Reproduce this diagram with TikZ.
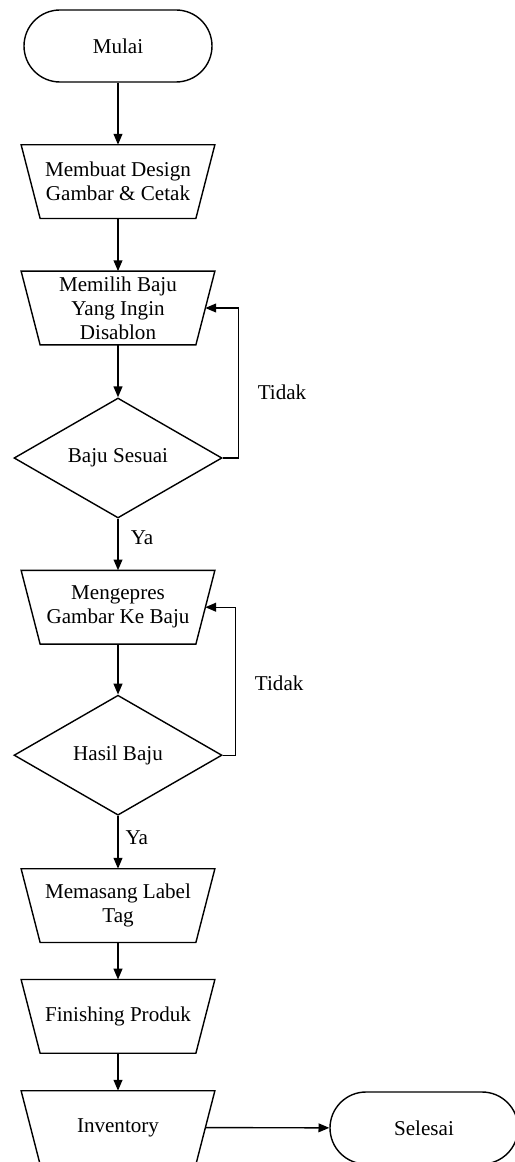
\documentclass[tikz,border=0pt]{standalone}
\usepackage{fontspec}
\setmainfont{Liberation Serif}
\usepackage{tikz}
\usetikzlibrary{positioning,arrows.meta,shapes.geometric}

\tikzset{
  terminal/.style={draw, line width=1pt, rounded corners=0.9cm, minimum width=4.7cm, minimum height=1.8cm, inner sep=0pt},
  proses/.style={minimum width=4.83cm, minimum height=1.83cm, inner sep=0pt, align=center,
    append after command={\pgfextra{\draw[line width=1pt] (\tikzlastnode.north west) -- (\tikzlastnode.north east) -- ([xshift=-0.475cm]\tikzlastnode.south east) -- ([xshift=0.475cm]\tikzlastnode.south west) -- cycle;}}},
  cek/.style={draw, line width=1pt, diamond, aspect=1.72, minimum width=5.2cm, minimum height=3cm, inner sep=0pt},
  flow/.style={line width=1pt, -{Triangle[length=0.27cm,width=0.22cm]}},
  every node/.style={font=\fontsize{15}{17}\selectfont}
}

\begin{document}
\begin{tikzpicture}
                \useasboundingbox (0,0) rectangle (12.85,-29.05);

                \node[terminal] (mulai)   at (2.95,-1.15)  {Mulai};
                \node[proses]   (design)  at (2.95,-4.54)  {Membuat Design\\Gambar \& Cetak};
                \node[proses]   (pilih)   at (2.95,-7.7)   {Memilih Baju\\Yang Ingin\\Disablon};
                \node[cek]      (sesuai)  at (2.95,-11.45) {Baju Sesuai};
                \node[proses]   (press)   at (2.95,-15.18) {Mengepres\\Gambar Ke Baju};
                \node[cek]      (hasil)   at (2.95,-18.88) {Hasil Baju};
                \node[proses]   (label)   at (2.95,-22.64) {Memasang Label\\Tag};
                \node[proses]   (finish)  at (2.95,-25.41) {Finishing Produk};
                \node[proses]   (invent)  at (2.95,-28.19) {Inventory};
                \node[terminal] (selesai) at (10.6,-28.2)  {Selesai};

                \draw[flow] (mulai)  -- (design);
                \draw[flow] (design) -- (pilih);
                \draw[flow] (pilih)  -- (sesuai);
                \draw[flow] (sesuai) -- (press);
                \draw[flow] (press)  -- (hasil);
                \draw[flow] (hasil)  -- (label);
                \draw[flow] (label)  -- (finish);
                \draw[flow] (finish) -- (invent);
                \draw[flow] ([xshift=-0.24cm]invent.east) -- (selesai);

                % loop tidak
                \draw[flow] (sesuai.east) -- ++(0.4,0)  |- ([xshift=-0.24cm]pilih.east);
                \draw[flow] (hasil.east)  -- ++(0.32,0) |- ([xshift=-0.24cm]press.east);

                \node (tidak1) at (7.05,-9.8)   {Tidak};
                \node (tidak2) at (6.98,-17.08) {Tidak};
                \node (ya1)    at (3.55,-13.43) {Ya};
                \node (ya2)    at (3.42,-20.93) {Ya};
            \end{tikzpicture}
\end{document}
